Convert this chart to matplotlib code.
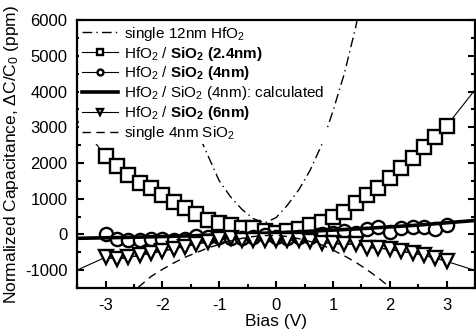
import numpy as np
import matplotlib
matplotlib.use('Agg')
import matplotlib.pyplot as plt
from matplotlib.ticker import MultipleLocator

# %% ------------------------------------------------------------------
# DATA
# ---------------------------------------------------------------------
BIAS = np.round(np.arange(-3.0, 3.01, 0.2), 1)   # measured bias points [V]

SQ_24NM = [2200, 1925, 1665, 1450, 1290, 1100, 920, 740, 560, 410,
           330, 270, 190, 170, 90, 40, 85, 140, 270, 360,
           480, 640, 870, 1090, 1310, 1590, 1850, 2150, 2460, 2740, 3040]
CIR_4NM = [0, -140, -160, -150, -120, -120, -150, -120, -40, -80,
           -60, -90, -100, -60, -10, -60, -90, -60, -70, 10,
           40, 85, 40, 150, 195, 65, 175, 220, 195, 160, 250]
TRI_6NM = [-640, -690, -640, -590, -520, -470, -400, -340, -270, -210,
           -140, -110, -150, -160, -150, -150, -150, -170, -190, -230,
           -250, -280, -260, -370, -380, -420, -475, -520, -590, -660, -755]

# fit lines: value at the plot edges (-3.5 V, 3.5 V)
SQ_FIT_ENDS  = [3200, 4050]
TRI_FIT_ENDS = [-1000, -1010]

# calculated curve for HfO2 / SiO2 (4nm)
CALC_X = [-3.5, -2.5, -1.5, -0.5, 0.5, 1.5, 2.5, 3.5]
CALC_Y = [-110, -80, -40, 10, 80, 160, 260, 390]

# single 12nm HfO2 (dash-dot)
HFO2_X = [-2.0, -1.8, -1.6, -1.4, -1.27, -1.0, -0.8, -0.6, -0.4, -0.2,
          0.0, 0.2, 0.4, 0.6, 0.8, 1.0, 1.2, 1.4, 1.5]
HFO2_Y = [5200, 4400, 3700, 2950, 2460, 1500, 1050, 700, 440, 320,
          470, 820, 1250, 1800, 2500, 3450, 4500, 5800, 6600]

# single 4nm SiO2 (dashed)
SIO2_X = [-2.6, -2.4, -2.2, -2.0, -1.8, -1.6, -1.4, -1.2, -1.0, -0.8,
          -0.6, -0.4, -0.2, 0.0, 0.2, 0.4, 0.6, 0.8, 1.0, 1.2,
          1.4, 1.6, 1.8, 2.0, 2.2]
SIO2_Y = [-1750, -1450, -1180, -980, -800, -640, -510, -380, -280, -180,
          -110, -60, -30, -30, -60, -120, -200, -290, -440, -600,
          -780, -990, -1220, -1480, -1750]

# %% ------------------------------------------------------------------
# PLOTTING
# ---------------------------------------------------------------------
plt.rcParams['font.family'] = ['Liberation Sans', 'DejaVu Sans']
plt.rcParams['mathtext.fontset'] = 'custom'
plt.rcParams['mathtext.rm'] = 'Liberation Sans'
plt.rcParams['mathtext.it'] = 'Liberation Sans:italic'
plt.rcParams['mathtext.bf'] = 'Liberation Sans:bold'
plt.rcParams['axes.unicode_minus'] = False

fig = plt.figure(figsize=(4.76, 3.36), dpi=100)
ax = fig.add_axes([0.162, 0.143, 0.836, 0.797])

mk = dict(markersize=9.5, markerfacecolor='white', markeredgecolor='black',
          markeredgewidth=1.7, color='black')

# single 12nm HfO2
ax.plot(HFO2_X, HFO2_Y, color='black', linestyle=(0, (7, 3, 1, 3)),
        linewidth=1.0, label='single 12nm HfO$_2$')

# 2.4nm squares: thin fit line + markers
ax.plot([-3.5] + list(BIAS) + [3.5], [SQ_FIT_ENDS[0]] + SQ_24NM + [SQ_FIT_ENDS[1]],
        color='black', linewidth=0.8)
ax.plot(BIAS, SQ_24NM, linestyle='-', linewidth=0.8, marker='s', **mk,
        label=r'HfO$_2$ / $\mathbf{SiO_2}$ $\mathbf{(2.4nm)}$')

# 4nm circles
ax.plot(BIAS, CIR_4NM, linestyle='-', linewidth=0.8, marker='o', **mk,
        label=r'HfO$_2$ / $\mathbf{SiO_2}$ $\mathbf{(4nm)}$')

# calculated
ax.plot(CALC_X, CALC_Y, color='black', linewidth=2.6,
        label='HfO$_2$ / SiO$_2$ (4nm): calculated')

# 6nm triangles
ax.plot([-3.5] + list(BIAS) + [3.5], [TRI_FIT_ENDS[0]] + TRI_6NM + [TRI_FIT_ENDS[1]],
        color='black', linewidth=0.8)
ax.plot(BIAS, TRI_6NM, linestyle='-', linewidth=0.8, marker='v', **mk,
        label=r'HfO$_2$ / $\mathbf{SiO_2}$ $\mathbf{(6nm)}$')

# single 4nm SiO2
ax.plot(SIO2_X, SIO2_Y, color='black', linestyle=(0, (6, 4)),
        linewidth=1.0, label='single 4nm SiO$_2$')

ax.set_xlim(-3.5, 3.5)
ax.set_ylim(-1500, 6000)
ax.xaxis.set_major_locator(MultipleLocator(1))
ax.xaxis.set_minor_locator(MultipleLocator(0.5))
ax.yaxis.set_major_locator(MultipleLocator(1000))
ax.yaxis.set_minor_locator(MultipleLocator(500))
ax.tick_params(which='both', direction='in', right=True, top=False,
               labelsize=12, width=1.5, pad=7)
ax.tick_params(which='major', length=5)
ax.tick_params(which='minor', length=3)
for sp in ax.spines.values():
    sp.set_linewidth(1.6)

ax.set_xlabel('Bias (V)', fontsize=12.5, labelpad=1)
ax.set_ylabel('Normalized Capacitance, ΔC/C$_0$ (ppm)', fontsize=12.5, labelpad=3)

leg = ax.legend(loc='upper left', fontsize=11, frameon=True, framealpha=1.0,
                edgecolor='none', facecolor='white', handlelength=2.4,
                handletextpad=0.4, labelspacing=0.12, borderpad=0.15,
                borderaxespad=0.15, fancybox=False, markerscale=0.45)
leg.get_frame().set_linewidth(0)

plt.savefig('out.png', dpi=100)
